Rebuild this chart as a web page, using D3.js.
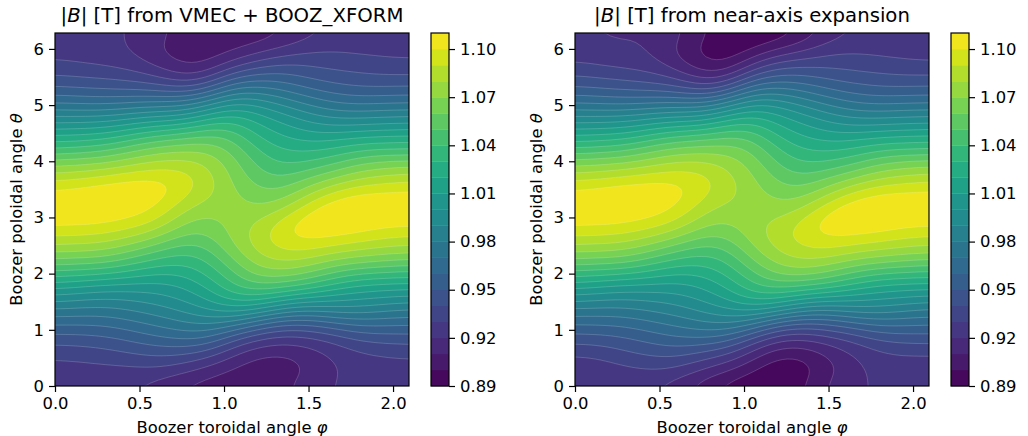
<!doctype html>
<html lang="en">
<head>
    <title>|B| from VMEC and near-axis expansion</title>
    <meta charset="utf-8"/>
    <script src="https://d3js.org/d3.v7.min.js"></script>
    <style>
        body {
            margin: 0;
            padding: 0;
            background: white;
        }

        svg {
            display: block;
        }

        text {
            font-family: 'DejaVu Sans', sans-serif;
            fill: black;
        }
    </style>
</head>
<body>
<script>

    const phiMax = 2.0944
    const thetaMax = 6.2832
    const phiTicks = [0, 0.5, 1, 1.5, 2]
    const thetaTicks = [0, 1, 2, 3, 4, 5, 6]
    const levels = [0.89, 0.90, 0.91, 0.92, 0.93, 0.94, 0.95, 0.96, 0.97, 0.98, 0.99, 1.00,
        1.01, 1.02, 1.03, 1.04, 1.05, 1.06, 1.07, 1.08, 1.09, 1.10, 1.11]
    const barTicks = [0.89, 0.92, 0.95, 0.98, 1.01, 1.04, 1.07, 1.10]

    // one list per toroidal angle, running up in theta from 0 to 2 pi (25 samples)
    const bVmec = [
        [.923, .925, .930, .9415, .957, .975, .996, 1.020, 1.045, 1.070, 1.088, 1.103, 1.112, 1.105, 1.090, 1.070, 1.042, 1.021, .997, .975, .955, .941, .931, .925, .923],
        [.922, .925, .932, .942, .957, .974, .992, 1.016, 1.043, 1.068, 1.087, 1.102, 1.112, 1.108, 1.093, 1.072, 1.046, 1.022, .998, .973, .953, .939, .929, .923, .922],
        [.922, .926, .934, .944, .958, .973, .989, 1.012, 1.042, 1.067, 1.086, 1.101, 1.111, 1.111, 1.098, 1.074, 1.049, 1.024, .999, .972, .952, .938, .927, .922, .922],
        [.9205, .925, .937, .949, .963, .978, .992, 1.010, 1.034, 1.057, 1.078, 1.096, 1.107, 1.110, 1.103, 1.081, 1.059, 1.033, 1.005, .976, .951, .935, .924, .920, .9205],
        [.915, .928, .940, .9545, .969, .983, .9955, 1.008, 1.026, 1.047, 1.069, 1.0905, 1.101, 1.109, 1.104, 1.087, 1.068, 1.042, 1.011, .980, .951, .931, .916, .909, .915],
        [.906, .923, .937, .9575, .975, .989, 1.002, 1.011, 1.025, 1.038, 1.054, 1.069, 1.082, 1.095, 1.099, 1.088, 1.071, 1.046, 1.010, .980, .946, .918, .905, .903, .906],
        [.904, .914, .931, .9585, .978, .998, 1.011, 1.023, 1.0345, 1.041, 1.055, 1.061, 1.071, 1.082, 1.087, 1.083, 1.071, 1.055, 1.026, .992, .955, .921, .905, .902, .904],
        [.902, .907, .918, .934, .968, 1.003, 1.029, 1.042, 1.050, 1.066, 1.073, 1.076, 1.076, 1.074, 1.069, 1.066, 1.060, 1.050, 1.034, 1.011, .980, .951, .920, .905, .902],
        [.902, .902, .907, .924, .951, .995, 1.029, 1.057, 1.072, 1.082, 1.086, 1.079, 1.070, 1.062, 1.055, 1.048, 1.040, 1.028, 1.018, 1.003, .979, .955, .932, .912, .902],
        [.908, .903, .906, .919, .940, .979, 1.016, 1.052, 1.075, 1.090, 1.100, 1.099, 1.077, 1.062, 1.049, 1.038, 1.030, 1.020, 1.010, .9925, .972, .955, .940, .919, .908],
        [.916, .910, .912, .922, .943, .974, 1.009, 1.046, 1.069, 1.088, 1.104, 1.111, 1.100, 1.080, 1.063, 1.043, 1.029, 1.013, 1.000, .982, .963, .948, .937, .927, .916],
        [.921, .918, .921, .927, .950, .982, 1.005, 1.032, 1.056, 1.080, 1.099, 1.112, 1.112, 1.096, 1.072, 1.050, 1.032, 1.014, .993, .974, .957, .944, .935, .929, .921],
        [.924, .925, .926, .938, .958, .983, 1.002, 1.022, 1.051, 1.076, 1.096, 1.108, 1.114, 1.104, 1.083, 1.063, 1.041, 1.018, .994, .972, .953, .942, .934, .926, .924],
        [.923, .925, .928, .940, .957, .979, .999, 1.021, 1.048, 1.073, 1.090, 1.104, 1.113, 1.104, 1.086, 1.067, 1.042, 1.019, .996, .974, .954, .940, .932, .926, .923],
        [.923, .925, .930, .9415, .957, .975, .996, 1.020, 1.045, 1.070, 1.088, 1.103, 1.112, 1.105, 1.090, 1.070, 1.042, 1.021, .997, .975, .955, .941, .931, .925, .923]
    ]

    const bNearAxis = [
        [.920, .922, .928, .941, .957, .974, .996, 1.020, 1.045, 1.070, 1.088, 1.103, 1.112, 1.105, 1.090, 1.070, 1.043, 1.021, .997, .975, .955, .941, .930, .923, .920],
        [.920, .922, .930, .942, .957, .974, .992, 1.016, 1.043, 1.068, 1.087, 1.102, 1.112, 1.108, 1.093, 1.072, 1.047, 1.022, .998, .973, .953, .938, .927, .921, .920],
        [.918, .927, .937, .945, .959, .974, .990, 1.012, 1.042, 1.067, 1.086, 1.101, 1.111, 1.111, 1.097, 1.074, 1.049, 1.024, .999, .972, .951, .936, .925, .920, .918],
        [.921, .929, .939, .951, .964, .979, .993, 1.011, 1.034, 1.057, 1.078, 1.096, 1.107, 1.110, 1.100, 1.080, 1.059, 1.033, 1.005, .976, .949, .933, .923, .921, .921],
        [.914, .928, .942, .956, .969, .983, .995, 1.008, 1.025, 1.047, 1.069, 1.090, 1.101, 1.108, 1.101, 1.086, 1.067, 1.041, 1.011, .979, .949, .929, .912, .908, .914],
        [.903, .918, .932, .955, .975, .990, 1.003, 1.012, 1.026, 1.039, 1.056, 1.072, 1.083, 1.094, 1.096, 1.087, 1.068, 1.043, 1.008, .978, .938, .912, .899, .896, .903],
        [.893, .911, .927, .952, .977, .997, 1.011, 1.023, 1.034, 1.043, 1.057, 1.066, 1.074, 1.083, 1.086, 1.080, 1.068, 1.052, 1.024, .990, .950, .913, .893, .889, .893],
        [.890, .899, .913, .929, .966, 1.000, 1.028, 1.042, 1.052, 1.067, 1.075, 1.079, 1.079, 1.076, 1.073, 1.068, 1.062, 1.050, 1.032, 1.009, .978, .947, .916, .895, .890],
        [.890, .888, .897, .915, .941, .990, 1.025, 1.052, 1.070, 1.080, 1.087, 1.081, 1.073, 1.066, 1.058, 1.050, 1.041, 1.028, 1.017, 1.002, .978, .953, .934, .906, .890],
        [.900, .892, .898, .913, .938, .975, 1.012, 1.049, 1.074, 1.088, 1.095, 1.096, 1.078, 1.064, 1.051, 1.040, 1.030, 1.020, 1.009, .992, .971, .953, .934, .915, .900],
        [.913, .906, .909, .921, .943, .973, 1.007, 1.044, 1.067, 1.087, 1.102, 1.110, 1.102, 1.080, 1.063, 1.043, 1.029, 1.013, 1.000, .982, .962, .947, .936, .926, .913],
        [.920, .916, .919, .926, .950, .982, 1.005, 1.032, 1.056, 1.080, 1.097, 1.111, 1.111, 1.096, 1.072, 1.050, 1.032, 1.014, .993, .974, .957, .944, .934, .928, .920],
        [.921, .924, .926, .938, .958, .983, 1.002, 1.022, 1.051, 1.076, 1.096, 1.108, 1.114, 1.104, 1.083, 1.063, 1.041, 1.018, .994, .972, .953, .942, .933, .926, .921],
        [.920, .923, .928, .940, .957, .979, .999, 1.021, 1.048, 1.073, 1.090, 1.104, 1.113, 1.104, 1.086, 1.067, 1.042, 1.019, .996, .974, .954, .940, .931, .925, .920],
        [.920, .922, .928, .941, .957, .974, .996, 1.020, 1.045, 1.070, 1.088, 1.103, 1.112, 1.105, 1.090, 1.070, 1.043, 1.021, .997, .975, .955, .941, .930, .923, .920]
    ]

    const svg = d3.select('body')
        .append('svg')
        .attr('width', 1028)
        .attr('height', 436)

    const plotTop = 33
    const plotBottom = 386
    const fontSize = '16.4px'
    const bandColor = i => d3.interpolateViridis((i + 0.5) / (levels.length - 1))

    // the hand read grid is coarse: resample it finer and blur a little so the contours come out smooth
    const fineStep = 5
    const blurRadius = 2.5

    function fineGrid(field) {
        const nPhi = field.length
        const nTheta = field[0].length
        const width = (nPhi - 1) * fineStep + 1
        const height = (nTheta - 1) * fineStep + 1
        const data = new Float64Array(width * height)
        for (let j = 0; j < height; j++) {
            const v = j / fineStep
            const j0 = Math.min(Math.floor(v), nTheta - 2)
            const tv = v - j0
            for (let i = 0; i < width; i++) {
                const u = i / fineStep
                const i0 = Math.min(Math.floor(u), nPhi - 2)
                const tu = u - i0
                data[i + j * width] =
                    (1 - tu) * (1 - tv) * field[i0][j0] + tu * (1 - tv) * field[i0 + 1][j0] +
                    (1 - tu) * tv * field[i0][j0 + 1] + tu * tv * field[i0 + 1][j0 + 1]
            }
        }
        d3.blur2({data: data, width: width, height: height}, blurRadius)
        return {data: data, width: width, height: height}
    }

    function drawPanel(id, left, field, titleParts) {
        const right = left + 354
        const x = d3.scaleLinear().domain([0, phiMax]).range([left, right])
        const y = d3.scaleLinear().domain([0, thetaMax]).range([plotBottom, plotTop])

        const grid = fineGrid(field)

        // sample i sits at i + 0.5 in the contour coordinates
        const line = d3.line()
            .x(d => x((d[0] - 0.5) * phiMax / (grid.width - 1)))
            .y(d => y((d[1] - 0.5) * thetaMax / (grid.height - 1)))

        const contours = d3.contours()
            .size([grid.width, grid.height])
            .thresholds(levels.slice(1, -1))(Array.from(grid.data))

        svg.append('clipPath')
            .attr('id', 'clip' + id)
            .append('rect')
            .attr('x', left)
            .attr('y', plotTop)
            .attr('width', right - left)
            .attr('height', plotBottom - plotTop)

        const plot = svg.append('g').attr('clip-path', 'url(#clip' + id + ')')

        plot.append('rect')
            .attr('x', left)
            .attr('y', plotTop)
            .attr('width', right - left)
            .attr('height', plotBottom - plotTop)
            .attr('fill', bandColor(0))

        contours.forEach(function (c, i) {
            const d = c.coordinates
                .map(polygon => polygon.map(ring => line(ring) + 'Z').join(''))
                .join('')
            plot.append('path')
                .attr('d', d)
                .attr('fill', bandColor(i + 1))
                .attr('fill-rule', 'evenodd')
                .attr('stroke', 'white')
                .attr('stroke-opacity', 0.35)
                .attr('stroke-width', 0.5)
        })

        // axes
        const xAxis = svg.append('g')
            .attr('transform', 'translate(0,' + plotBottom + ')')
            .call(d3.axisBottom(x).tickValues(phiTicks).tickFormat(d3.format('.1f')).tickSizeOuter(0).tickSize(6).tickPadding(5))
        const yAxis = svg.append('g')
            .attr('transform', 'translate(' + left + ',0)')
            .call(d3.axisLeft(y).tickValues(thetaTicks).tickFormat(d3.format('d')).tickSizeOuter(0).tickSize(6).tickPadding(5))
        for (const a of [xAxis, yAxis]) {
            a.select('.domain').remove()
            a.selectAll('line').attr('stroke', 'black').attr('stroke-width', 1.2)
            a.selectAll('text').style('font-size', fontSize).style('font-family', "'DejaVu Sans', sans-serif")
        }

        svg.append('rect')
            .attr('x', left)
            .attr('y', plotTop)
            .attr('width', right - left)
            .attr('height', plotBottom - plotTop)
            .attr('fill', 'none')
            .attr('stroke', 'black')
            .attr('stroke-width', 1.2)

        const cx = (left + right) / 2

        const title = svg.append('text')
            .attr('x', cx)
            .attr('y', 22)
            .attr('text-anchor', 'middle')
            .style('font-size', '19.7px')
        title.append('tspan').text('|')
        title.append('tspan').attr('font-style', 'italic').text('B')
        title.append('tspan').text('|' + titleParts)

        const xLabel = svg.append('text')
            .attr('x', cx)
            .attr('y', 432.5)
            .attr('text-anchor', 'middle')
            .style('font-size', fontSize)
        xLabel.append('tspan').text('Boozer toroidal angle ')
        xLabel.append('tspan').attr('font-style', 'italic').text('φ')

        const yLabel = svg.append('text')
            .attr('transform', 'translate(' + (left - 33) + ',' + (plotTop + plotBottom) / 2 + ') rotate(-90)')
            .attr('text-anchor', 'middle')
            .style('font-size', fontSize)
        yLabel.append('tspan').text('Boozer poloidal angle ')
        yLabel.append('tspan').attr('font-style', 'italic').text('θ')

        // colour bar
        const barLeft = left + 376
        const barWidth = 18
        const barY = d3.scaleLinear()
            .domain([levels[0], levels[levels.length - 1]])
            .range([plotBottom, plotTop])

        svg.append('g')
            .selectAll('rect')
            .data(levels.slice(0, -1))
            .enter()
            .append('rect')
            .attr('x', barLeft)
            .attr('y', (d, i) => barY(levels[i + 1]))
            .attr('width', barWidth)
            .attr('height', (d, i) => barY(d) - barY(levels[i + 1]) + 0.3)
            .attr('fill', (d, i) => bandColor(i))

        const barAxis = svg.append('g')
            .attr('transform', 'translate(' + (barLeft + barWidth) + ',0)')
            .call(d3.axisRight(barY).tickValues(barTicks).tickFormat(d3.format('.2f')).tickSizeOuter(0).tickSize(6).tickPadding(5))
        barAxis.select('.domain').remove()
        barAxis.selectAll('line').attr('stroke', 'black').attr('stroke-width', 1.2)
        barAxis.selectAll('text').style('font-size', fontSize).style('font-family', "'DejaVu Sans', sans-serif")

        svg.append('rect')
            .attr('x', barLeft)
            .attr('y', plotTop)
            .attr('width', barWidth)
            .attr('height', plotBottom - plotTop)
            .attr('fill', 'none')
            .attr('stroke', 'black')
            .attr('stroke-width', 1.2)
    }

    drawPanel('Vmec', 55, bVmec, ' [T] from VMEC + BOOZ_XFORM')
    drawPanel('Nae', 575, bNearAxis, ' [T] from near-axis expansion')

</script>
</body>
</html>
